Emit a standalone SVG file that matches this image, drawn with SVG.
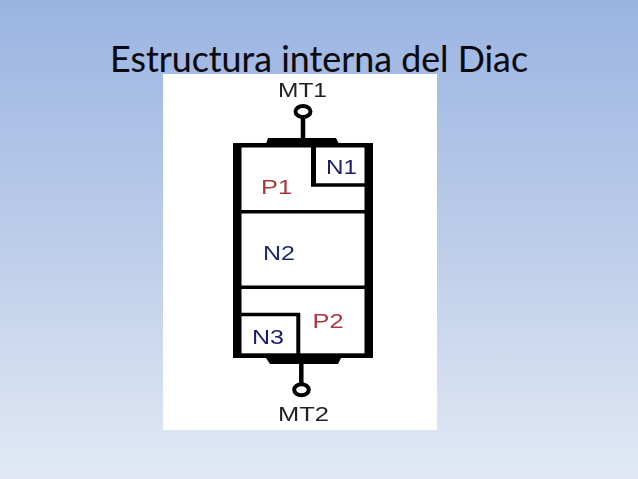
<svg xmlns="http://www.w3.org/2000/svg" width="638" height="479" viewBox="0 0 638 479">
<style>
.t{font-family:"Liberation Sans",Arial,sans-serif;font-size:20px}
.k{fill:#000}
.c{fill:#fff;stroke:#000;stroke-width:4}
.s{stroke:#000;fill:none}
</style>
<defs><linearGradient id="bg" x1="0" y1="0" x2="0" y2="1"><stop offset="0" stop-color="#9ab4e2"/><stop offset="0.5" stop-color="#bccde9"/><stop offset="1" stop-color="#e2e9f5"/></linearGradient>
<filter id="soft" x="-5%" y="-5%" width="110%" height="110%"><feGaussianBlur stdDeviation="0.45"/></filter></defs>
<rect width="638" height="479" fill="url(#bg)"/>
<text id="title" x="110" y="72" font-family="Lato,'Open Sans',sans-serif" font-size="37" fill="#0a0a10" stroke="#0a0a10" stroke-width="0.1" textLength="418" lengthAdjust="spacingAndGlyphs">Estructura interna del Diac</text>
<rect x="163" y="74" width="274" height="356" fill="#fff"/>
<g filter="url(#soft)">
<g id="connectors">
<path class="s" stroke-width="4.500" d="M303 118V140"/>
<path class="s" stroke-width="4.500" d="M301.300 362V384"/>
</g>
<g id="body">
<rect class="k" x="233" y="143" width="140" height="4.500"/>
<rect class="k" x="233" y="353.300" width="140" height="4.700"/>
<rect class="k" x="233" y="143" width="8.500" height="215"/>
<rect class="k" x="364.500" y="143" width="8.500" height="215"/>
<path class="k" d="M268 138H336L339 144H266Z"/>
<path class="k" d="M266 358H341L338 364H270Z"/>
<rect class="k" x="241" y="210" width="124" height="3.500"/>
<rect class="k" x="241" y="285.500" width="124" height="3.500"/>
</g>
<g id="N1"><path class="s" stroke-width="5" d="M313.500 146V185"/><path class="s" stroke-width="3.500" d="M311 185H365"/><text class="t" x="326" y="174" fill="#1c1c6a" textLength="31" lengthAdjust="spacingAndGlyphs">N1</text></g>
<g id="P1"><text class="t" x="261" y="193.500" fill="#a8383c" textLength="31" lengthAdjust="spacingAndGlyphs">P1</text></g>
<g id="N2"><text class="t" x="263" y="260" fill="#1c2a6a" textLength="32" lengthAdjust="spacingAndGlyphs">N2</text></g>
<g id="P2"><text class="t" x="312.500" y="328" fill="#a8383c" textLength="31" lengthAdjust="spacingAndGlyphs">P2</text></g>
<g id="N3"><path class="s" stroke-width="3.500" d="M241 314.500H300"/><path class="s" stroke-width="4" d="M298.300 313V354"/><text class="t" x="252" y="343.500" fill="#1c1c6a" textLength="32" lengthAdjust="spacingAndGlyphs">N3</text></g>
<g id="MT1"><ellipse class="c" cx="303" cy="111.500" rx="7.500" ry="5.500"/><text class="t" x="278" y="96.500" fill="#222" textLength="49" lengthAdjust="spacingAndGlyphs">MT1</text></g>
<g id="MT2"><ellipse class="c" cx="301.500" cy="389.700" rx="7.300" ry="5.500"/><text class="t" x="278" y="421" fill="#222" textLength="51" lengthAdjust="spacingAndGlyphs">MT2</text></g>
</g>
</svg>
